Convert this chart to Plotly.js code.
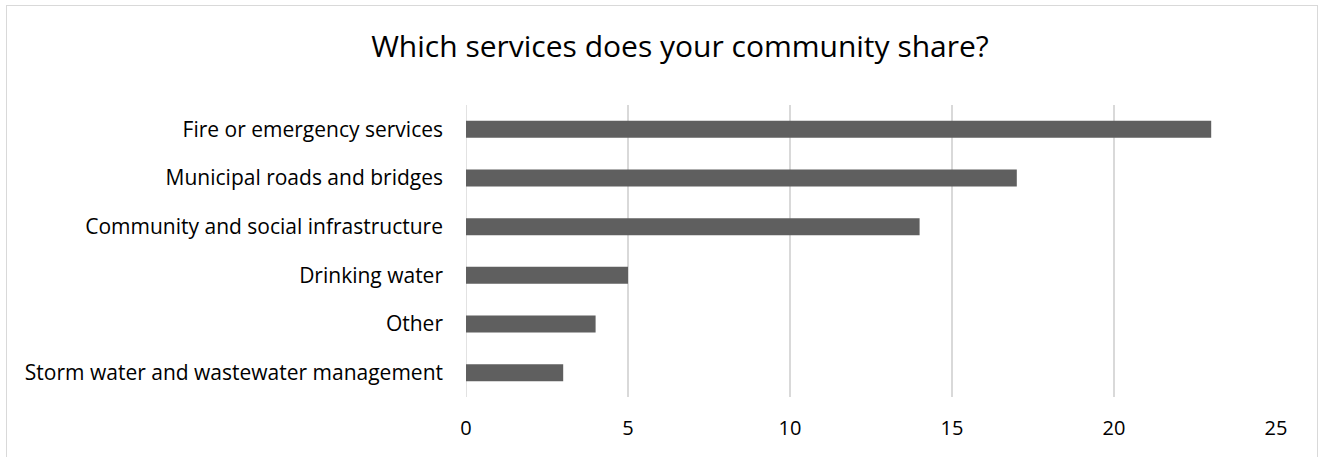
<!DOCTYPE html>
<html>
<head>
<meta charset="utf-8">
<script src="https://cdn.plot.ly/plotly-3.0.1.min.js"></script>
<style>
  html, body { margin: 0; padding: 0; background: #ffffff; overflow: hidden; }
  #chart { position: absolute; left: 0; top: 0; width: 1320px; height: 457px; }
  #frame { position: absolute; left: 6px; top: 5px; width: 1310px; height: 480px;
           border: 1.5px solid #d9d9d9; pointer-events: none; }
</style>
</head>
<body>
<div id="chart"></div>
<div id="frame"></div>
<script>
const categories = [
  "Fire or emergency services",
  "Municipal roads and bridges",
  "Community and social infrastructure",
  "Drinking water",
  "Other",
  "Storm water and wastewater management"
];
const counts = [23, 17, 14, 5, 4, 3];
const xTicks = [0, 5, 10, 15, 20, 25];
const chartTitle = "Which services does your community share?";

const FONT = "'Open Sans', Lato, sans-serif";

const trace = {
  type: "bar",
  orientation: "h",
  y: categories,
  x: counts,
  marker: { color: "#5f5f5f" },
  hoverinfo: "x+y"
};

const layout = {
  width: 1320,
  height: 457,
  margin: { l: 466, r: 44, t: 105, b: 60 },
  paper_bgcolor: "rgba(0,0,0,0)",
  plot_bgcolor: "#ffffff",
  bargap: 0.65,
  showlegend: false,
  title: {
    text: chartTitle,
    font: { family: FONT, size: 30, color: "#000000" },
    x: 680 / 1320,
    xanchor: "center",
    xref: "container",
    y: 1 - 46 / 457,
    yanchor: "middle",
    yref: "container"
  },
  xaxis: {
    range: [0, 25],
    tickvals: xTicks,
    ticktext: xTicks.map(String),
    showgrid: true,
    gridcolor: "#d9d9d9",
    gridwidth: 1.5,
    zeroline: false,
    showline: false,
    ticks: "",
    ticklabelstandoff: 17,
    tickfont: { family: FONT, size: 20, color: "#000000" }
  },
  yaxis: {
    type: "category",
    autorange: "reversed",
    showgrid: false,
    zeroline: false,
    showline: false,
    ticks: "",
    ticklabelstandoff: 22,
    tickfont: { family: FONT, size: 21, color: "#000000" }
  },
  shapes: [{
    type: "line", xref: "x", yref: "paper",
    x0: 0, x1: 0, y0: 0, y1: 1,
    line: { color: "#d9d9d9", width: 1.5 },
    layer: "below"
  }]
};

Plotly.newPlot("chart", [trace], layout, { displayModeBar: false, staticPlot: true });
</script>
</body>
</html>
